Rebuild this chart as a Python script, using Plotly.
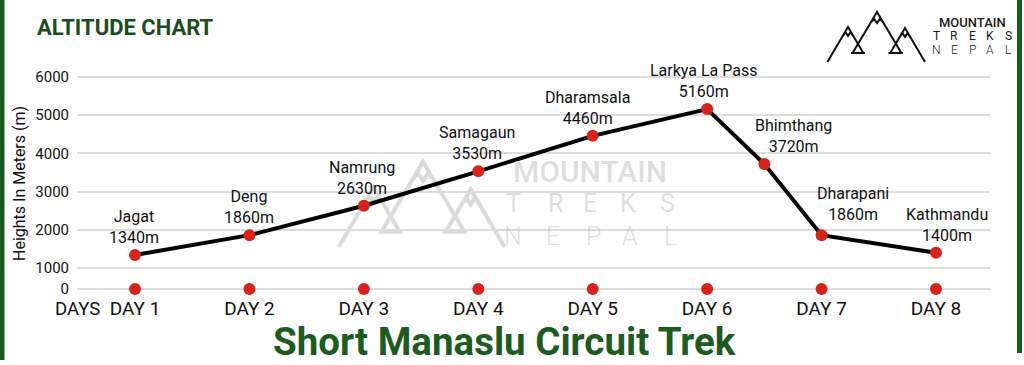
import plotly.graph_objects as go

# ---------------- data ----------------
stops = ["Jagat", "Deng", "Namrung", "Samagaun", "Dharamsala",
         "Larkya La Pass", "Bhimthang", "Dharapani", "Kathmandu"]
stop_days = [1, 2, 3, 4, 5, 6, 6.5, 7, 8]
altitudes = [1340, 1860, 2630, 3530, 4460, 5160, 3720, 1860, 1400]

day_ticks = [1, 2, 3, 4, 5, 6, 7, 8]
day_labels = ["DAY 1", "DAY 2", "DAY 3", "DAY 4", "DAY 5", "DAY 6", "DAY 7", "DAY 8"]

baseline_level = 450  # compressed "0" row of the chart
y_tick_values = [450, 1000, 2000, 3000, 4000, 5000, 6000]
y_tick_labels = ["0", "1000", "2000", "3000", "4000", "5000", "6000"]

# label placement (style)
label_xshift = [-1, 0, -2, -1, -5, -3, 29, 31, 11]
label_yshift = [6, 6, 6, 6, 6, 6, 6, 9, 6]

# ---------------- layout geometry ----------------
W, H = 1024, 365
L, T, R, B = 77, 72, 34, 70
PW, PH = W - L - R, H - T - B
FONT = "Roboto"
RED = "#d8231d"
GREEN_DARK = "#1b4d1f"
GREEN = "#1e5b21"


def px(x):
    return (x - L) / PW


def py(y):
    return (H - B - y) / PH


def path_from(polylines, tf=lambda p: p):
    parts = []
    for pl in polylines:
        pts = [tf(p) for p in pl]
        parts.append("M " + " L ".join(f"{px(x):.5f},{py(y):.5f}" for x, y in pts))
    return " ".join(parts)


# mountain logo polylines (pixel space of the small logo)
logo_lines = [
    [(827.4, 62), (848, 27), (863.3, 53)],
    [(852.6, 53), (877, 12), (901.4, 53)],
    [(890.3, 53), (905, 28), (925, 62)],
    [(851, 53), (865, 53)],
    [(888.5, 53), (903, 53)],
    [(843.3, 35), (845.6, 32.2), (848, 36), (850.4, 32.2), (852.7, 35)],
    [(871.1, 22), (874, 18.8), (877, 23), (880, 18.8), (882.9, 22)],
    [(900.3, 36), (902.6, 33.2), (905, 37), (907.4, 33.2), (909.7, 36)],
]


def wm_tf(p):
    x, y = p
    return (338 + (x - 827) * 1.7, 162 + (y - 12) * 1.7)


fig = go.Figure()

# line with stops
fig.add_trace(go.Scatter(
    x=stop_days, y=altitudes, mode="lines+markers",
    line=dict(color="black", width=4),
    marker=dict(color=RED, size=12, line=dict(width=0)),
    hoverinfo="skip", showlegend=False, cliponaxis=False,
))
# day markers on the baseline
fig.add_trace(go.Scatter(
    x=day_ticks, y=[baseline_level] * len(day_ticks), mode="markers",
    marker=dict(color=RED, size=12, line=dict(width=0)),
    hoverinfo="skip", showlegend=False, cliponaxis=False,
))

annotations = []
for name, d, a, xs, ys in zip(stops, stop_days, altitudes, label_xshift, label_yshift):
    annotations.append(dict(
        x=d, y=a, xref="x", yref="y", text=f"{name}<br>{a}m",
        showarrow=False, yanchor="bottom", xanchor="center",
        xshift=xs, yshift=ys, font=dict(family=FONT, size=16, color="#111"),
    ))

# titles
annotations += [
    dict(x=px(35), y=py(27), xref="paper", yref="paper", text="<b>ALTITUDE CHART</b>",
         showarrow=False, xanchor="left", yanchor="middle",
         font=dict(family=FONT, size=22, color=GREEN_DARK)),
    dict(x=px(504), y=py(341), xref="paper", yref="paper",
         text="<b>Short Manaslu Circuit Trek</b>", showarrow=False,
         xanchor="center", yanchor="middle", borderpad=0,
         font=dict(family=FONT, size=38.5, color=GREEN)),
    dict(x=px(19), y=py(183), xref="paper", yref="paper", text="Heights In Meters (m)",
         showarrow=False, textangle=-90, xanchor="center", yanchor="middle",
         font=dict(family=FONT, size=16, color="#111")),
    dict(x=px(77), y=py(309), xref="paper", yref="paper", text="DAYS",
         showarrow=False, xanchor="center", yanchor="middle", borderpad=0,
         font=dict(family=FONT, size=18.5, color="#111")),
]

# top-right logo text
annotations.append(dict(x=px(972), y=py(22), xref="paper", yref="paper", text="MOUNTAIN",
                        showarrow=False, xanchor="center", yanchor="middle",
                        font=dict(family=FONT, size=13, color="#1a1a1a", weight=500)))
for word, yy, wt in (("TREKS", 36, 400), ("NEPAL", 50, 300)):
    for ch, xx in zip(word, [936, 954, 972, 990, 1008]):
        annotations.append(dict(x=px(xx), y=py(yy), xref="paper", yref="paper", text=ch,
                                showarrow=False, xanchor="center", yanchor="middle",
                                font=dict(family=FONT, size=12, color="#1a1a1a", weight=wt)))

# watermark text
WM = "rgba(200,200,200,0.6)"
annotations.append(dict(x=px(590), y=py(171), xref="paper", yref="paper", text="MOUNTAIN",
                        showarrow=False, xanchor="center", yanchor="middle", borderpad=0,
                        font=dict(family=FONT, size=30, color=WM, weight=500)))
for word, yy, xs_, wt in (("TREKS", 204, [513, 555, 590, 628, 667], 400),
                          ("NEPAL", 236, [513, 553, 593, 630, 670], 300)):
    for ch, xx in zip(word, xs_):
        annotations.append(dict(x=px(xx), y=py(yy), xref="paper", yref="paper", text=ch,
                                showarrow=False, xanchor="center", yanchor="middle", borderpad=0,
                                font=dict(family=FONT, size=25, color=WM, weight=wt)))

shapes = [
    # watermark mountains
    dict(type="path", xref="paper", yref="paper", path=path_from(logo_lines, wm_tf),
         line=dict(color="rgba(205,205,205,0.75)", width=4), layer="below"),
    # logo mountains
    dict(type="path", xref="paper", yref="paper", path=path_from(logo_lines),
         line=dict(color="#111", width=2)),
    # baseline row
    dict(type="line", xref="paper", yref="y", x0=0, x1=1, y0=baseline_level, y1=baseline_level,
         line=dict(color="#bdbdbd", width=2), layer="below"),
    # green frame bars
    dict(type="rect", xref="paper", yref="paper", x0=px(0), x1=px(4.5), y0=py(360), y1=py(0),
         fillcolor="#175a1b", line=dict(width=0)),
    dict(type="rect", xref="paper", yref="paper", x0=px(1017), x1=px(1022), y0=py(353), y1=py(0),
         fillcolor="#175a1b", line=dict(width=0)),
]

fig.update_layout(
    width=W, height=H, margin=dict(l=L, r=R, t=T, b=B),
    paper_bgcolor="white", plot_bgcolor="white",
    showlegend=False, annotations=annotations, shapes=shapes,
    xaxis=dict(range=[0.493, 8.472], tickvals=day_ticks, ticktext=day_labels,
               showgrid=False, zeroline=False, showline=False, ticks="",
               tickfont=dict(family=FONT, size=19, color="#111"), fixedrange=True),
    yaxis=dict(range=[293, 6131], tickvals=y_tick_values, ticktext=y_tick_labels,
               showgrid=True, gridcolor="#dcdcdc", gridwidth=1.5, zeroline=False,
               showline=False, ticks="", ticklabelstandoff=7,
               tickfont=dict(family=FONT, size=15, color="#111"), fixedrange=True),
)

fig.write_html("out.html")
